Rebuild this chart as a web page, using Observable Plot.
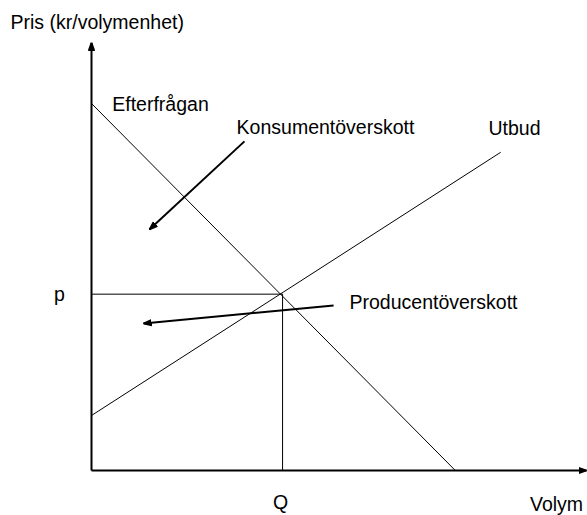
<!DOCTYPE html>
<html>
<head>
<meta charset="utf-8">
<script src="https://cdn.jsdelivr.net/npm/d3@7"></script>
<script src="https://cdn.jsdelivr.net/npm/@observablehq/plot@0.6"></script>
<style>
  body { margin: 0; background: #fff; }
</style>
</head>
<body>
<div id="chart"></div>
<script>
// Axis ends (data units)
const axisMax = 10;
// Demand curve (Efterfrågan): two end points
const demand = [{x: 0, y: 8.575}, {x: 7.35, y: 0}];
// Supply curve (Utbud)
const supply = [{x: 0, y: 1.285}, {x: 8.26, y: 7.43}];
// Equilibrium
const eqQ = 3.86;
const eqP = 4.12;
// Annotation arrows
const pointers = [
  {x1: 3.09, y1: 7.69, x2: 1.17, y2: 5.63},
  {x1: 4.89, y1: 3.855, x2: 1.05, y2: 3.435}
];
// Labels (start-anchored)
const startLabels = [
  {text: "Pris (kr/volymenhet)", x: -1.636, y: 10.47}
];
// Labels (centred)
const labels = [
  {text: "Efterfrågan", x: 1.394, y: 8.55},
  {text: "Konsumentöverskott", x: 4.727, y: 8.01},
  {text: "Utbud", x: 8.545, y: 7.99},
  {text: "p", x: -0.646, y: 4.11},
  {text: "Producentöverskott", x: 6.909, y: 3.925},
  {text: "Q", x: 3.818, y: -0.748},
  {text: "Volym", x: 9.394, y: -0.80}
];

function triangleMarker(color) {
  const ns = "http://www.w3.org/2000/svg";
  const m = document.createElementNS(ns, "marker");
  m.setAttribute("viewBox", "0 0 10 10");
  m.setAttribute("refX", "10");
  m.setAttribute("refY", "5");
  m.setAttribute("markerUnits", "userSpaceOnUse");
  m.setAttribute("markerWidth", "8");
  m.setAttribute("markerHeight", "8");
  m.setAttribute("orient", "auto");
  const p = document.createElementNS(ns, "path");
  p.setAttribute("d", "M0,1.5L10,5L0,8.5Z");
  p.setAttribute("fill", color);
  m.appendChild(p);
  return m;
}

const axes = [
  {x1: 0, y1: 0, x2: 0, y2: axisMax},
  {x1: 0, y1: 0, x2: axisMax, y2: 0}
];
const guides = [
  {x1: 0, y1: eqP, x2: eqQ, y2: eqP},
  {x1: eqQ, y1: 0, x2: eqQ, y2: eqP}
];

const chart = Plot.plot({
  width: 587,
  height: 515,
  marginLeft: 91,
  marginRight: 1,
  marginTop: 42,
  marginBottom: 45,
  x: {domain: [0, axisMax], axis: null},
  y: {domain: [0, axisMax], axis: null},
  style: {fontFamily: "'Liberation Sans', Arial, sans-serif", background: "#fff"},
  marks: [
    Plot.line(demand, {x: "x", y: "y", stroke: "#000", strokeWidth: 1}),
    Plot.line(supply, {x: "x", y: "y", stroke: "#000", strokeWidth: 1}),
    Plot.link(guides, {x1: "x1", y1: "y1", x2: "x2", y2: "y2", stroke: "#000", strokeWidth: 1}),
    Plot.link(axes, {x1: "x1", y1: "y1", x2: "x2", y2: "y2", stroke: "#000", strokeWidth: 2, markerEnd: triangleMarker}),
    Plot.link(pointers, {x1: "x1", y1: "y1", x2: "x2", y2: "y2", stroke: "#000", strokeWidth: 2, markerEnd: triangleMarker}),
    Plot.text(startLabels, {x: "x", y: "y", text: "text", textAnchor: "start", fontSize: 19.5, fill: "#000", lineAnchor: "middle"}),
    Plot.text(labels, {x: "x", y: "y", text: "text", textAnchor: "middle", fontSize: 19.5, fill: "#000", lineAnchor: "middle"})
  ]
});
document.getElementById("chart").appendChild(chart);
</script>
</body>
</html>
